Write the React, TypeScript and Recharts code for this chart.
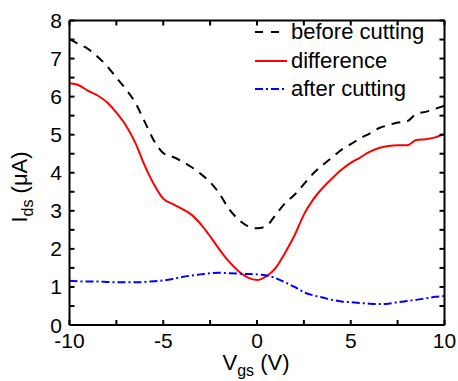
import React from 'react';
import { LineChart, Line, XAxis, YAxis } from 'recharts';

// gate voltage samples (V)
const vgs = [
  -10, -9.5, -9, -8.5, -8, -7.5, -7, -6.5, -6, -5.5, -5, -4.5, -4, -3.5, -3, -2.5, -2, -1.5, -1, -0.5,
  0, 0.5, 1, 1.5, 2, 2.5, 3, 3.5, 4, 4.5, 5, 5.5, 6, 6.5, 7, 7.5, 8, 8.5, 9, 9.5, 10,
];

// Ids (uA)
const beforeCutting = [
  7.51, 7.38, 7.25, 7.05, 6.8, 6.5, 6.2, 5.85, 5.35, 4.85, 4.52, 4.42, 4.3, 4.15, 3.97, 3.75, 3.45, 3.05, 2.78, 2.6,
  2.54, 2.6, 2.9, 3.2, 3.42, 3.7, 3.98, 4.2, 4.4, 4.6, 4.75, 4.9, 5.03, 5.17, 5.25, 5.32, 5.35, 5.55, 5.6, 5.68, 5.76,
];
const difference = [
  6.35, 6.3, 6.15, 6.03, 5.85, 5.58, 5.25, 4.8, 4.2, 3.7, 3.32, 3.18, 3.05, 2.9, 2.65, 2.33, 1.98, 1.67, 1.42, 1.25,
  1.18, 1.28, 1.5, 1.9, 2.35, 2.9, 3.3, 3.6, 3.85, 4.08, 4.26, 4.4, 4.55, 4.65, 4.7, 4.72, 4.72, 4.86, 4.88, 4.93, 5.02,
];
const afterCutting = [
  1.16, 1.15, 1.14, 1.14, 1.13, 1.12, 1.12, 1.12, 1.13, 1.15, 1.17, 1.21, 1.26, 1.3, 1.33, 1.36, 1.37, 1.36, 1.35, 1.34,
  1.33, 1.3, 1.23, 1.12, 1.0, 0.86, 0.78, 0.72, 0.66, 0.62, 0.6, 0.58, 0.56, 0.55, 0.56, 0.6, 0.63, 0.66, 0.7, 0.74, 0.76,
];

const xTicks = [-10, -7.5, -5, -2.5, 0, 2.5, 5, 7.5, 10];
const yTicks = [0, 0.5, 1, 1.5, 2, 2.5, 3, 3.5, 4, 4.5, 5, 5.5, 6, 6.5, 7, 7.5, 8];

const data = vgs.map((v, i) => ({
  vgs: v,
  before: beforeCutting[i],
  diff: difference[i],
  after: afterCutting[i],
}));

const legendItems = [
  { name: 'before cutting', color: '#000000', dash: '8 8' },
  { name: 'difference', color: '#ff0000', dash: '' },
  { name: 'after cutting', color: '#0000ff', dash: '8 3 2 3' },
];

const FONT = '"Liberation Sans", Arial, sans-serif';
const TICK = 5;

// ticks point inward; labels only on the major values
const BottomTick = (props: any) => {
  const { x, y, payload } = props;
  const v = payload.value;
  return (
    <g>
      <line x1={x} y1={y} x2={x} y2={y - TICK} stroke="#000" strokeWidth={2} />
      {v % 5 === 0 && (
        <text x={x} y={y + 8} dy="0.72em" textAnchor="middle" fontSize={21} fontFamily={FONT} fill="#000">
          {String(v)}
        </text>
      )}
    </g>
  );
};

const TopTick = (props: any) => {
  const { x, y } = props;
  return <line x1={x} y1={y} x2={x} y2={y + TICK} stroke="#000" strokeWidth={2} />;
};

const LeftTick = (props: any) => {
  const { x, y, payload } = props;
  const v = payload.value;
  return (
    <g>
      <line x1={x} y1={y} x2={x + TICK} y2={y} stroke="#000" strokeWidth={2} />
      {Number.isInteger(v) && (
        <text x={x - 7.5} y={y} dy="0.36em" textAnchor="end" fontSize={21} fontFamily={FONT} fill="#000">
          {String(v)}
        </text>
      )}
    </g>
  );
};

const RightTick = (props: any) => {
  const { x, y } = props;
  return <line x1={x} y1={y} x2={x - TICK} y2={y} stroke="#000" strokeWidth={2} />;
};

const App: React.FC = () => {
  return (
    <div style={{ position: 'absolute', left: 0, top: 0 }}>
      <LineChart width={458} height={381} data={data} margin={{ top: 0, right: 0, left: 0, bottom: 0 }}>
        <XAxis dataKey="vgs" type="number" domain={[-10, 10]} ticks={xTicks} interval={0}
          tick={BottomTick} tickLine={false} tickSize={0} tickMargin={0} height={56} stroke="#000" strokeWidth={2} />
        <XAxis xAxisId="top" orientation="top" dataKey="vgs" type="number" domain={[-10, 10]} ticks={xTicks} interval={0}
          tick={TopTick} tickLine={false} tickSize={0} tickMargin={0} height={20.5} stroke="#000" strokeWidth={2} />
        <YAxis type="number" domain={[0, 8]} ticks={yTicks} interval={0}
          tick={LeftTick} tickLine={false} tickSize={0} tickMargin={0} width={69.5} stroke="#000" strokeWidth={2} />
        <YAxis yAxisId="right" orientation="right" type="number" domain={[0, 8]} ticks={yTicks} interval={0}
          tick={RightTick} tickLine={false} tickSize={0} tickMargin={0} width={13.5} stroke="#000" strokeWidth={2} />
        <Line xAxisId="top" yAxisId="right" type="monotone" dataKey="before" stroke="#000000" strokeWidth={2} strokeDasharray="9 7" dot={false} isAnimationActive={false} />
        <Line type="monotone" dataKey="diff" stroke="#ff0000" strokeWidth={2} dot={false} isAnimationActive={false} />
        <Line type="monotone" dataKey="after" stroke="#0000ff" strokeWidth={2} strokeDasharray="8 3 2 3" dot={false} isAnimationActive={false} />
      </LineChart>

      {/* axis titles */}
      <svg width={458} height={381} style={{ position: 'absolute', left: 0, top: 0, pointerEvents: 'none' }}>
        <text x={27} y={187} transform="rotate(-90, 27, 187)" textAnchor="middle" fontSize={22} fontFamily={FONT} fill="#000">
          I<tspan dy={6} fontSize={16}>ds</tspan>
          <tspan dy={-6}> (μA)</tspan>
        </text>
        <text x={256} y={370} textAnchor="middle" fontSize={22} fontFamily={FONT} fill="#000">
          V<tspan dy={6} fontSize={16}>gs</tspan>
          <tspan dy={-6}> (V)</tspan>
        </text>
      </svg>

      <div style={{ position: 'absolute', left: 253, top: 18, fontFamily: FONT, fontSize: 22, color: '#000' }}>
        {legendItems.map((it) => (
          <div key={it.name} style={{ display: 'flex', alignItems: 'center', height: 28.5 }}>
            <svg width={36} height={10} style={{ marginRight: 2 }}>
              <line x1={2} y1={5} x2={34} y2={5} stroke={it.color} strokeWidth={2} strokeDasharray={it.dash} />
            </svg>
            <span style={{ lineHeight: '28px', whiteSpace: 'nowrap' }}>{it.name}</span>
          </div>
        ))}
      </div>
    </div>
  );
};

export default App;
